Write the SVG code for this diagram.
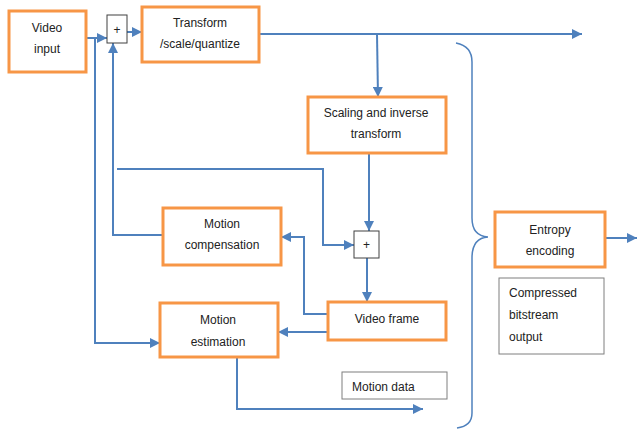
<svg xmlns="http://www.w3.org/2000/svg" width="637" height="430" viewBox="0 0 637 430">
<defs>
<style>
.n{fill:#fff;stroke:#F79646;stroke-width:3}
.g{fill:#fff;stroke:#7f7f7f;stroke-width:1}
.k{fill:#fff;stroke:#404040;stroke-width:1}
.c{fill:none;stroke:#4F81BD;stroke-width:2}
.t{font-family:"Liberation Sans",Arial,sans-serif;font-size:12px;fill:#222;text-anchor:middle}
.l{text-anchor:start}
</style>
<marker id="a" markerUnits="userSpaceOnUse" markerWidth="10" markerHeight="10" viewBox="0 0 10 10" refX="10" refY="5" orient="auto">
<path d="M0,0 L10,5 L0,10 z" fill="#4F81BD"/>
</marker>
</defs>
<rect width="637" height="430" fill="#fff"/>
<g id="connectors">
<path class="c" d="M86,38 H107" marker-end="url(#a)"/>
<path class="c" d="M95,38 V343 H160" marker-end="url(#a)"/>
<path class="c" d="M163,235 H113 V43" marker-end="url(#a)"/>
<path class="c" d="M127,32 H142" marker-end="url(#a)"/>
<path class="c" d="M259,34 H582" marker-end="url(#a)"/>
<path class="c" d="M377,34 L378,97" marker-end="url(#a)"/>
<path class="c" d="M369,153 V231" marker-end="url(#a)"/>
<path class="c" d="M117,169 H323 V245 H354" marker-end="url(#a)"/>
<path class="c" d="M367,258 V302" marker-end="url(#a)"/>
<path class="c" d="M328,314 H304 V237 H281" marker-end="url(#a)"/>
<path class="c" d="M328,332 H278" marker-end="url(#a)"/>
<path class="c" d="M237,357 V409 H423" marker-end="url(#a)"/>
<path class="c" d="M605,238 H637" marker-end="url(#a)"/>
<path fill="none" stroke="#4F81BD" stroke-width="1.5" d="M456,43 Q472,46 472,62 V218 Q472,236 488,237 Q472,238 472,258 V413 Q472,426 457,428"/>
</g>
<g id="video-input"><rect class="n" x="9" y="11" width="77" height="61"/><text class="t" x="47" y="32">Video</text><text class="t" x="47" y="53">input</text></g>
<g id="plus1"><rect class="k" x="107" y="15" width="20" height="28"/><text class="t" x="117" y="34">+</text></g>
<g id="transform"><rect class="n" x="142" y="7" width="117" height="55"/><text class="t" x="200" y="27">Transform</text><text class="t" x="200" y="48">/scale/quantize</text></g>
<g id="scaling"><rect class="n" x="308" y="97" width="138" height="56"/><text class="t" x="376" y="117">Scaling and inverse</text><text class="t" x="376" y="138">transform</text></g>
<g id="plus2"><rect class="k" x="354" y="231" width="25" height="27"/><text class="t" x="366.5" y="249">+</text></g>
<g id="motion-compensation"><rect class="n" x="163" y="208" width="118" height="57"/><text class="t" x="222" y="228">Motion</text><text class="t" x="222" y="249">compensation</text></g>
<g id="motion-estimation"><rect class="n" x="160" y="303" width="118" height="54"/><text class="t" x="218" y="324">Motion</text><text class="t" x="218" y="346">estimation</text></g>
<g id="video-frame"><rect class="n" x="328" y="302" width="118" height="38"/><text class="t" x="387" y="323">Video frame</text></g>
<g id="motion-data"><rect class="g" x="342" y="372" width="105" height="27"/><text class="t l" x="352" y="391">Motion data</text></g>
<g id="entropy-encoding"><rect class="n" x="495" y="212" width="110" height="55"/><text class="t" x="550" y="234">Entropy</text><text class="t" x="550" y="255">encoding</text></g>
<g id="compressed-output"><rect class="g" x="499" y="278" width="105" height="76"/><text class="t l" x="509" y="297">Compressed</text><text class="t l" x="509" y="319">bitstream</text><text class="t l" x="509" y="341">output</text></g>
</svg>
